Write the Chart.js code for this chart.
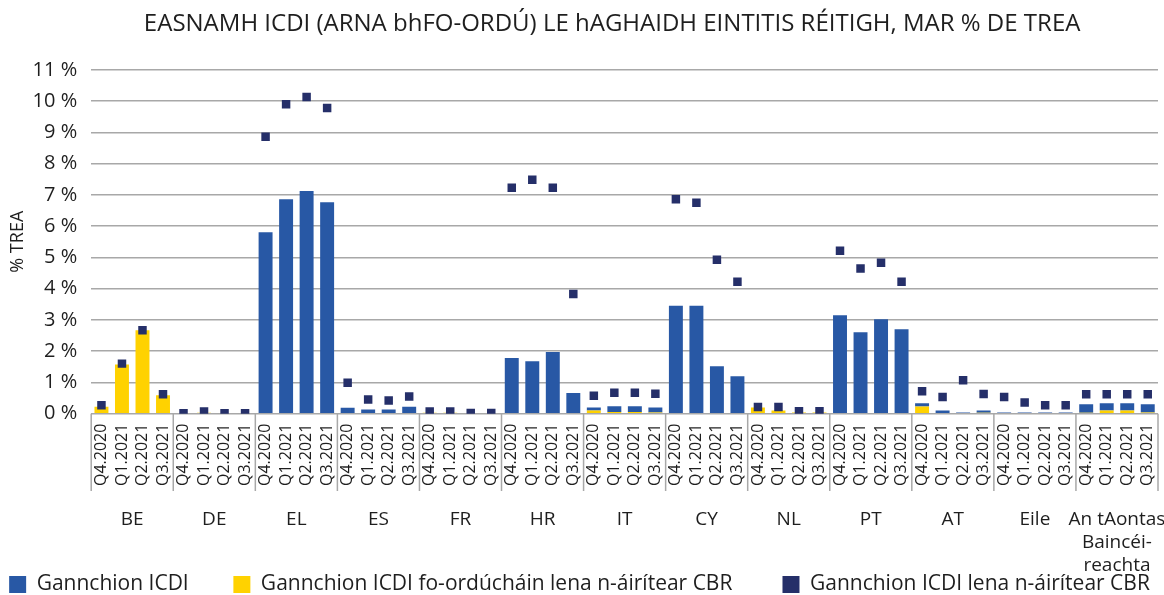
<!DOCTYPE html>
<html>
<head>
<meta charset="utf-8">
<script src="https://cdn.jsdelivr.net/npm/chart.js@4/dist/chart.umd.min.js"></script>
<style>
  body { margin: 0; background: #fff; }
  #wrap { width: 1164px; height: 595px; }
</style>
</head>
<body>
<div id="wrap"><canvas id="MREL"></canvas></div>
<script>
// quarters repeated inside every country group
var quarters = ['Q4.2020', 'Q1.2021', 'Q2.2021', 'Q3.2021'];
var groups = ['BE', 'DE', 'EL', 'ES', 'FR', 'HR', 'IT', 'CY', 'NL', 'PT', 'AT', 'Eile', ['An tAontas', 'Baincéi-', 'reachta']];

// Gannchion ICDI (part above the subordinated one), % TREA
var shortfall = [
    0, 0, 0, 0,             // BE
    0, 0, 0, 0,             // DE
    5.80, 6.86, 7.12, 6.76, // EL
    0.19, 0.13, 0.13, 0.22, // ES
    0, 0, 0, 0,             // FR
    1.78, 1.68, 1.97, 0.66, // HR
    0.10, 0.19, 0.19, 0.16, // IT
    3.45, 3.45, 1.52, 1.20, // CY
    0, 0, 0, 0,             // NL
    3.15, 2.60, 3.02, 2.70, // PT
    0.10, 0.10, 0.04, 0.07, // AT
    0.04, 0.04, 0.04, 0.04, // Eile
    0.27, 0.23, 0.23, 0.26  // EU
];

// Gannchion ICDI fo-ordúcháin lena n-áirítear CBR
var subordShortfall = [
    0.22, 1.57, 2.67, 0.59,
    0, 0.03, 0, 0,
    0, 0, 0, 0,
    0, 0, 0, 0,
    0.03, 0.03, 0, 0,
    0, 0, 0, 0,
    0.10, 0.05, 0.05, 0.04,
    0, 0, 0, 0,
    0.20, 0.10, 0.04, 0.04,
    0, 0, 0, 0,
    0.23, 0, 0, 0.03,
    0, 0, 0, 0,
    0.03, 0.10, 0.10, 0.04
];

// Gannchion ICDI lena n-áirítear CBR
var shortfallCBR = [
    0.27, 1.60, 2.67, 0.62,
    0.01, 0.07, 0.01, 0.01,
    8.86, 9.90, 10.13, 9.78,
    0.99, 0.45, 0.42, 0.55,
    0.07, 0.07, 0.02, 0.02,
    7.23, 7.48, 7.23, 3.83,
    0.57, 0.67, 0.67, 0.64,
    6.86, 6.75, 4.92, 4.22,
    0.21, 0.21, 0.08, 0.08,
    5.21, 4.64, 4.83, 4.22,
    0.72, 0.53, 1.07, 0.63,
    0.53, 0.36, 0.27, 0.27,
    0.62, 0.62, 0.62, 0.62
];

var labels = [];
groups.forEach(function () {
    quarters.forEach(function (q) { labels.push(q); });
});

var FONT = "'Open Sans', 'Noto Sans', sans-serif";
var TEXT = '#1e1e1e';
var GRID = '#a8a8a8';

// vertical separators between country groups, below the axis
var groupLines = {
    id: 'groupLines',
    afterDraw: function (chart) {
        var x = chart.scales.x;
        var ctx = chart.ctx;
        var top = chart.chartArea.bottom;
        var bottom = x.bottom - 8;
        ctx.save();
        ctx.strokeStyle = GRID;
        ctx.lineWidth = 1.5;
        for (var g = 0; g <= groups.length; g++) {
            var px;
            if (g === 0) px = x.left;
            else if (g === groups.length) px = x.right;
            else px = (x.getPixelForValue(g * 4 - 1) + x.getPixelForValue(g * 4)) / 2;
            ctx.beginPath();
            ctx.moveTo(px, top);
            ctx.lineTo(px, bottom);
            ctx.stroke();
        }
        ctx.restore();
    }
};

// legend order: blue, yellow, squares; extra spaces widen the gap between items
var legendRank = [2, 1, 0];
var legendGap = ['', '         ', '        '];

var ctx = document.getElementById('MREL').getContext('2d');
var graphic = new Chart(ctx, {
    type: 'bar',
    data: {
        labels: labels,
        datasets: [{
            type: 'line',
            label: 'Gannchion ICDI lena n-áirítear CBR',
            data: shortfallCBR,
            stack: 'cbr',
            showLine: false,
            backgroundColor: '#252f69',
            borderColor: '#252f69',
            borderWidth: 0,
            pointStyle: 'rect',
            pointRadius: 6,
            pointBorderWidth: 0,
            pointBackgroundColor: '#252f69'
        }, {
            label: 'Gannchion ICDI fo-ordúcháin lena n-áirítear CBR',
            data: subordShortfall,
            stack: 'bars',
            backgroundColor: '#ffd200',
            barPercentage: 0.68,
            categoryPercentage: 1
        }, {
            label: 'Gannchion ICDI',
            data: shortfall,
            stack: 'bars',
            backgroundColor: '#2858a5',
            barPercentage: 0.68,
            categoryPercentage: 1
        }]
    },
    plugins: [groupLines],
    options: {
        responsive: true,
        maintainAspectRatio: false,
        animation: false,
        layout: { padding: { left: 0, right: 5, top: 0, bottom: -10 } },
        scales: {
            x: {
                stacked: true,
                grid: { display: false, drawTicks: false },
                border: { display: false },
                afterFit: function (scale) {
                    scale.height += 3;
                    scale.paddingLeft = 0;
                    scale.paddingRight = 0;
                },
                ticks: {
                    autoSkip: false,
                    minRotation: 90,
                    maxRotation: 90,
                    padding: 10,
                    color: TEXT,
                    font: { family: FONT, size: 16 }
                }
            },
            x2: {
                type: 'category',
                labels: groups,
                position: 'bottom',
                offset: true,
                grid: { display: false, drawTicks: false },
                border: { display: false },
                afterFit: function (scale) {
                    scale.height -= 13;
                    scale.paddingLeft = 0;
                    scale.paddingRight = 0;
                },
                ticks: {
                    autoSkip: false,
                    maxRotation: 0,
                    padding: 9,
                    color: TEXT,
                    font: { family: FONT, size: 19, lineHeight: 1.21 }
                }
            },
            y: {
                stacked: true,
                min: 0,
                max: 11,
                grid: { color: GRID, lineWidth: 1.5, drawTicks: false },
                border: { display: false },
                afterFit: function (scale) { scale.width -= 14; },
                ticks: {
                    stepSize: 1,
                    padding: 14,
                    color: TEXT,
                    font: { family: FONT, size: 20 },
                    callback: function (v) { return v + ' %'; }
                },
                title: {
                    display: true,
                    text: '% TREA',
                    color: TEXT,
                    padding: { top: 7, bottom: 4 },
                    font: { family: FONT, size: 18 }
                }
            }
        },
        plugins: {
            title: {
                display: true,
                fullSize: false,
                text: 'EASNAMH ICDI (ARNA bhFO-ORDÚ) LE hAGHAIDH EINTITIS RÉITIGH, MAR % DE TREA    ',
                color: TEXT,
                font: { family: FONT, size: 24, weight: 'normal' },
                padding: { top: 10, bottom: 31 }
            },
            legend: {
                position: 'bottom',
                labels: {
                    boxWidth: 17,
                    boxHeight: 17,
                    padding: 1,
                    color: TEXT,
                    font: { family: FONT, size: 21 },
                    generateLabels: function (chart) {
                        var items = Chart.defaults.plugins.legend.labels.generateLabels(chart);
                        items.forEach(function (it) { it.text = it.text + legendGap[it.datasetIndex]; });
                        return items;
                    },
                    sort: function (a, b) {
                        return legendRank[a.datasetIndex] - legendRank[b.datasetIndex];
                    }
                }
            },
            tooltip: { enabled: false }
        }
    }
});
</script>
</body>
</html>
